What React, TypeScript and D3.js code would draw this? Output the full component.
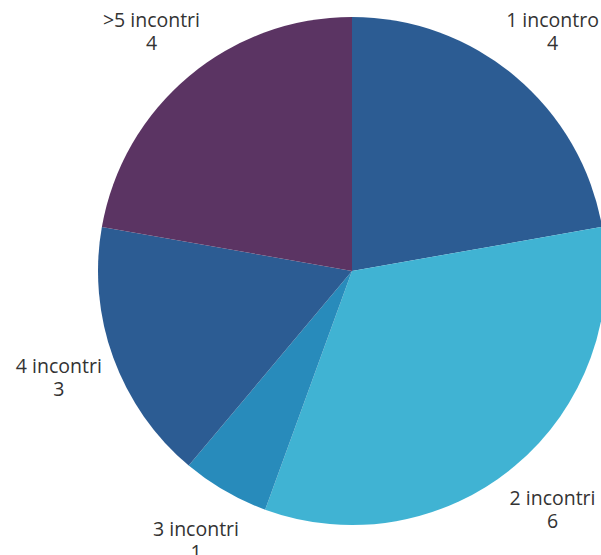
import React from "react";
import * as d3 from "d3";

const categories = ["1 incontro", "2 incontri", "3 incontri", "4 incontri", ">5 incontri"];
const values = [4, 6, 1, 3, 4];
const colors = ["#2c5c93", "#40b3d3", "#288bbb", "#2c5c93", "#5b3463"];

const W = 601;
const H = 555;
const CX = 352;
const CY = 271;
const R = 254;
const LABEL_R = 312;

export default function App() {
  const pie = d3
    .pie<number>()
    .sort(null)
    .value((d) => d)
    .startAngle(0)
    .endAngle(2 * Math.PI);
  const arcs = pie(values);
  const arc = d3.arc<d3.PieArcDatum<number>>().innerRadius(0).outerRadius(R);
  const labelArc = d3
    .arc<d3.PieArcDatum<number>>()
    .innerRadius(LABEL_R)
    .outerRadius(LABEL_R);

  return (
    <div style={{ position: "fixed", left: 0, top: 0, width: W, height: H, overflow: "hidden", background: "#fff" }}>
      <svg width={W} height={H} style={{ display: "block" }}>
        <g transform={`translate(${CX},${CY})`}>
          {arcs.map((a, i) => (
            <path key={i} d={arc(a) || ""} fill={colors[i]} />
          ))}
          {arcs.map((a, i) => {
            const [x, y] = labelArc.centroid(a);
            return (
              <text
                key={"t" + i}
                x={x}
                y={y}
                textAnchor="middle"
                fontFamily="'Open Sans', sans-serif"
                fontSize={19.5}
                fill="#333333"
              >
                <tspan x={x} dy={-5}>{categories[i]}</tspan>
                <tspan x={x} dy={23}>{values[i]}</tspan>
              </text>
            );
          })}
        </g>
      </svg>
    </div>
  );
}
